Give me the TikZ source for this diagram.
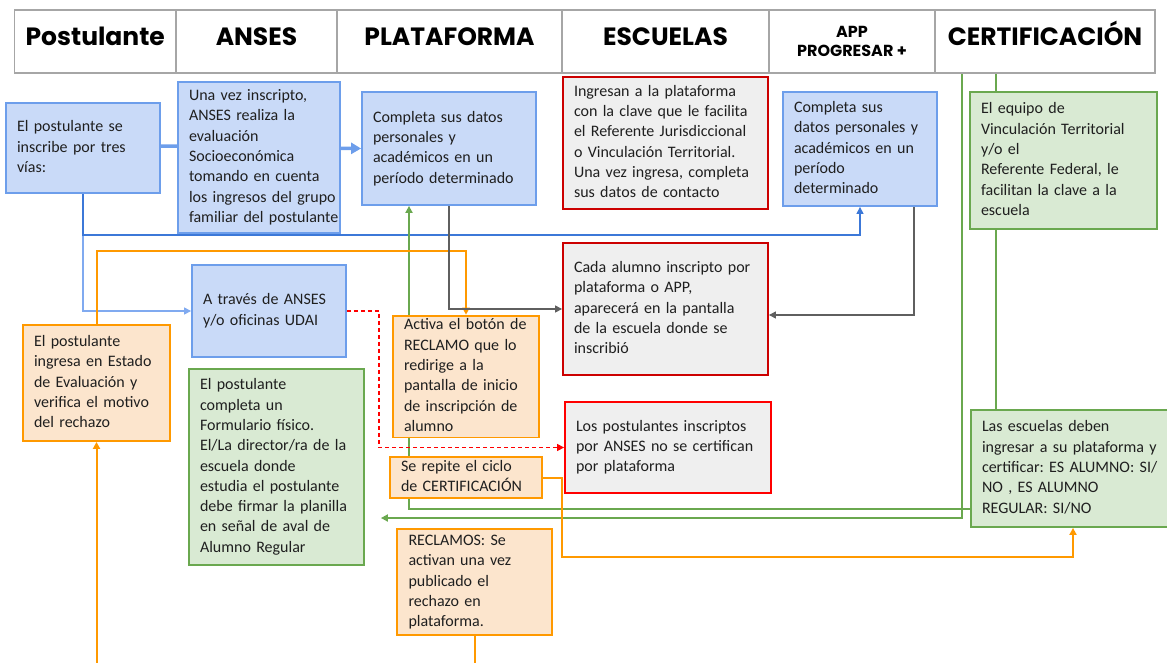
\documentclass[tikz,border=0pt]{standalone}
\usepackage{fontspec}
\setmainfont{Carlito}
\newfontfamily\hdrfont{Poppins}
\usetikzlibrary{arrows.meta,backgrounds}
\frenchspacing
\definecolor{bfill}{HTML}{C9DAF8}
\definecolor{bdraw}{HTML}{6D9EEB}
\definecolor{gfill}{HTML}{D9EAD3}
\definecolor{gdraw}{HTML}{6AA84F}
\definecolor{ofill}{HTML}{FCE5CD}
\definecolor{odraw}{HTML}{FF9900}
\definecolor{rfill}{HTML}{EFEFEF}
\definecolor{rdraw}{HTML}{CC0000}
\definecolor{rbright}{HTML}{FF0000}
\definecolor{hdraw}{HTML}{A6A6A6}
\definecolor{txt}{HTML}{1F1F1F}
\definecolor{darkblue}{HTML}{3C78D8}
\definecolor{lightblue}{HTML}{80AAF0}
\definecolor{grayline}{HTML}{5F5F5F}
\newcommand{\boxlines}[1]{\begin{tabular}{@{}l@{}}#1\end{tabular}}
\begin{document}
\begin{tikzpicture}[x=1pt,y=-1pt,
  box/.style={draw, line width=1.8pt, inner xsep=11pt, inner ysep=0pt, align=left, text=txt,
    font=\fontsize{16pt}{20.3pt}\selectfont},
  bluebox/.style={box, draw=bdraw, fill=bfill},
  redbox/.style={box, draw=rdraw, fill=rfill},
  brightbox/.style={box, draw=rbright, fill=rfill},
  greenbox/.style={box, draw=gdraw, fill=gfill},
  orangebox/.style={box, draw=odraw, fill=ofill},
  hdr/.style={draw=hdraw, fill=white, line width=1.8pt, minimum height=63pt, inner sep=0pt, text=black},
  hdrbig/.style={hdr, font=\hdrfont\bfseries\fontsize{25pt}{30pt}\selectfont, text height=18pt, text depth=11pt},
  arr/.style={-{Triangle[length=7pt,width=7pt]}},
  thickblue/.style={draw=bdraw, line width=3.5pt, -{Triangle[length=10pt,width=11pt]}},
  lblue/.style={draw=lightblue, line width=1.2pt, arr},
  dblue/.style={draw=darkblue, line width=1.2pt, arr},
  oline/.style={draw=odraw, line width=2pt, arr},
  gline/.style={draw=grayline, line width=1.1pt, arr},
  grn/.style={draw=gdraw, line width=2pt, arr},
  rdash/.style={draw=rbright, line width=1.3pt, dash pattern=on 4pt off 3pt, arr}
]
\useasboundingbox (0,0) rectangle (1167,662);

% header
\node[hdrbig, minimum width=161.5pt] (hdr1) at (95.25,41.5) {Postulante};
\node[hdrbig, minimum width=161pt] (hdr2) at (256.5,41.5) {ANSES};
\node[hdrbig, minimum width=225pt] (hdr3) at (449.5,41.5) {PLATAFORMA};
\node[hdrbig, minimum width=207pt] (hdr4) at (665.5,41.5) {ESCUELAS};
\node[hdr, minimum width=166pt, align=center, font=\hdrfont\bfseries\fontsize{16pt}{19.5pt}\selectfont] (hdr5) at (852,41.5) {APP\\PROGRESAR +};
\node[hdrbig, minimum width=220pt] (hdr6) at (1045,41.5) {CERTIFICACIÓN};

% boxes
\node[bluebox, minimum width=154pt, minimum height=90pt, text width=132pt] (b1) at (83,148)
  {\boxlines{El postulante se\\inscribe por tres\\vías:}};
\node[bluebox, minimum width=162pt, minimum height=151pt, text width=140pt] (b2) at (259,157.5)
  {\boxlines{Una vez inscripto,\\ANSES realiza la\\evaluación\\Socioeconómica\\tomando en cuenta\\los ingresos del grupo\\familiar del postulante}};
\node[bluebox, minimum width=174pt, minimum height=113pt, text width=152pt] (b3) at (449,148.5)
  {\boxlines{Completa sus datos\\personales y\\académicos en un\\período determinado}};
\node[redbox, minimum width=205pt, minimum height=132pt, text width=183pt] (red1) at (665.5,143)
  {\boxlines{Ingresan a la plataforma\\con la clave que le facilita\\el Referente Jurisdiccional\\o Vinculación Territorial.\\Una vez ingresa, completa\\sus datos de contacto}};
\node[bluebox, minimum width=154pt, minimum height=114pt, text width=132pt] (app) at (860,149)
  {\boxlines{Completa sus\\datos personales y\\académicos en un\\período\\determinado}};
\node[greenbox, minimum width=187pt, minimum height=137pt, text width=165pt] (green1) at (1063.5,160.5)
  {\boxlines{El equipo de\\Vinculación Territorial\\y/o el\\Referente Federal, le\\facilitan la clave a la\\escuela}};
\node[redbox, minimum width=205pt, minimum height=132pt, text width=183pt] (red2) at (665.5,309)
  {\boxlines{Cada alumno inscripto por\\plataforma o APP,\\aparecerá en la pantalla\\de la escuela donde se\\inscribió}};
\node[bluebox, minimum width=154pt, minimum height=92pt, text width=132pt] (atraves) at (269,311)
  {\boxlines{A través de ANSES\\y/o oficinas UDAI}};
\node[orangebox, minimum width=147pt, minimum height=116pt, text width=125pt] (ingresa) at (96.5,383)
  {\boxlines{El postulante\\ingresa en Estado\\de Evaluación y\\verifica el motivo\\del rechazo}};
\node[greenbox, minimum width=175pt, minimum height=196pt, text width=153pt] (gcompleta) at (276.5,467)
  {\boxlines{El postulante\\completa un\\Formulario físico.\\El/La director/ra de la\\escuela donde\\estudia el postulante\\debe firmar la planilla\\en señal de aval de\\Alumno Regular}};
\node[orangebox, minimum width=146pt, minimum height=117pt, text width=124pt] (activa) at (466,376.5)
  {\boxlines{Activa el botón de\\RECLAMO que lo\\redirige a la\\pantalla de inicio\\de inscripción de\\alumno}};
\node[brightbox, minimum width=206pt, minimum height=91pt, text width=184pt] (red3) at (668,447.5)
  {\boxlines{Los postulantes inscriptos\\por ANSES no se certifican\\por plataforma}};
\node[orangebox, minimum width=152pt, minimum height=41pt, text width=130pt] (serepite) at (466,477.5)
  {\boxlines{Se repite el ciclo\\de CERTIFICACIÓN}};
\node[orangebox, minimum width=155pt, minimum height=106pt, text width=132pt, inner xsep=11.5pt] (reclamos) at (474.5,582)
  {\boxlines{RECLAMOS: Se\\activan una vez\\publicado el\\rechazo en\\plataforma.}};
\node[greenbox, minimum width=199pt, minimum height=117pt, text width=177pt] (green2) at (1070.5,468.5)
  {\boxlines{Las escuelas deben\\ingresar a su plataforma y\\certificar: ES ALUMNO: SI/\\NO , ES ALUMNO\\REGULAR: SI/NO}};

\coordinate (obot1) at (96.5,666);
\coordinate (obot2) at (474.5,666);

% connectors
\begin{scope}[on background layer]
  \draw[thickblue] ([yshift=2pt]b1.east) -- (b3.west);
  \draw[lblue] (b1.south) |- (atraves.west);
  \draw[dblue] (b1.south) |- (860,235) -- (app.south);
  \draw[grn] ([yshift=-40.5pt]green2.west) -| ([xshift=-40pt]b3.south);
  \draw[grn] ([xshift=-83pt]hdr6.south) |- ([xshift=16pt,yshift=-51pt]gcompleta.east);
  \draw[grn,-] ([xshift=-49pt]hdr6.south) -- ([xshift=-74.5pt]green2.north);
  \draw[oline] (ingresa.north) |- (466,251) -- (activa.north);
  \draw[oline] (obot1) -- (ingresa.south);
  \draw[oline,-] (reclamos.south) -- (obot2);
  \draw[gline] (b3.south) |- (red2.west);
  \draw[gline] ([xshift=54pt,yshift=3pt]app.south) |- ([yshift=-6pt]red2.east);
  \draw[rdash] (atraves.east) -- (379,311) |- (red3.west);
  \draw[oline] (serepite.east) -- (562,477.5) |- (1073,557) -- ([xshift=2.5pt]green2.south);
\end{scope}
\end{tikzpicture}
\end{document}
